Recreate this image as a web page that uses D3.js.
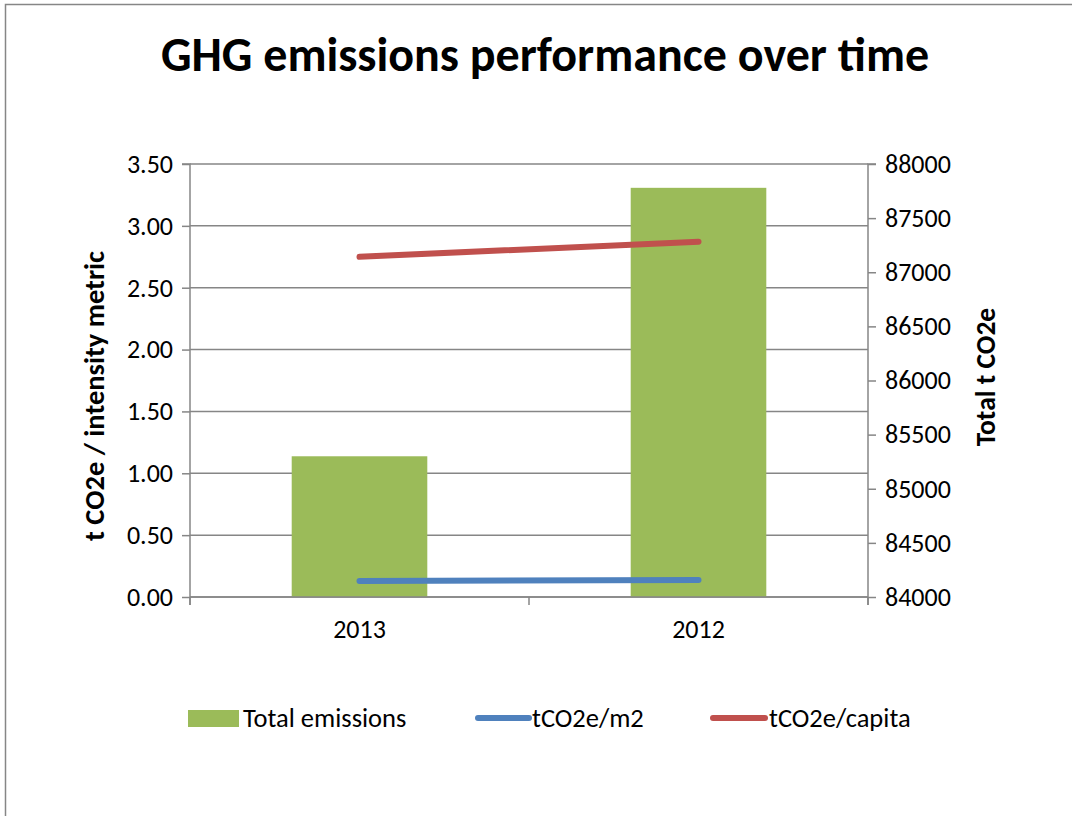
<!DOCTYPE html>
<html>
<head>
<meta charset="utf-8">
<script src="https://cdn.jsdelivr.net/npm/d3@7"></script>
<style>
  html, body { margin: 0; padding: 0; background: #fff; }
  svg { display: block; }
  text { font-family: Carlito, Calibri, "Open Sans", Lato, sans-serif; fill: #000; }
</style>
</head>
<body>
<svg id="chart" width="1072" height="816"></svg>
<script>
// ---- data ----
const categories = ["2013", "2012"];
const totalEmissions = [85300, 87780];      // right axis, bars
const perM2 = [0.129, 0.137];               // left axis, blue line
const perCapita = [2.75, 2.872];            // left axis, red line
const leftTicks = [0, 0.5, 1, 1.5, 2, 2.5, 3, 3.5];
const rightTicks = [84000, 84500, 85000, 85500, 86000, 86500, 87000, 87500, 88000];
const seriesNames = ["Total emissions", "tCO2e/m2", "tCO2e/capita"];
const colors = { bar: "#9BBB59", blue: "#4F81BD", red: "#C0504D" };

const svg = d3.select("#chart");
const gridColor = "#868686";
const fs = "26px";

// frame
svg.append("rect").attr("x", 5.5).attr("y", 4.5).attr("width", 1200).attr("height", 900)
  .attr("fill", "none").attr("stroke", gridColor).attr("stroke-width", 1.5);

const plot = { left: 190, right: 868, top: 164, bottom: 597 };

const x = d3.scaleBand().domain(categories).range([plot.left, plot.right]).paddingInner(0).paddingOuter(0);
const yL = d3.scaleLinear().domain([0, 3.5]).range([plot.bottom, plot.top]);
const yR = d3.scaleLinear().domain([84000, 88000]).range([plot.bottom, plot.top]);

// gridlines
svg.append("g").selectAll("line").data(leftTicks).join("line")
  .attr("x1", plot.left).attr("x2", plot.right)
  .attr("y1", d => yL(d)).attr("y2", d => yL(d))
  .attr("stroke", gridColor).attr("stroke-width", 1.5);

// bars
const barW = x.bandwidth() / 2.5;
svg.append("g").selectAll("rect").data(categories).join("rect")
  .attr("x", d => x(d) + (x.bandwidth() - barW) / 2)
  .attr("width", barW)
  .attr("y", (d, i) => yR(totalEmissions[i]))
  .attr("height", (d, i) => plot.bottom - yR(totalEmissions[i]))
  .attr("fill", colors.bar);

// left axis
const axL = d3.axisLeft(yL).tickValues(leftTicks).tickFormat(d3.format(".2f")).tickSize(8).tickPadding(9);
const gL = svg.append("g").attr("transform", `translate(${plot.left},0)`).call(axL);
// right axis
const axR = d3.axisRight(yR).tickValues(rightTicks).tickFormat(d3.format("d")).tickSize(8).tickPadding(9);
const gR = svg.append("g").attr("transform", `translate(${plot.right},0)`).call(axR);
// bottom axis
const axB = d3.axisBottom(x).tickSize(8).tickPadding(15);
const gB = svg.append("g").attr("transform", `translate(0,${plot.bottom})`).call(axB);
// bottom axis ticks at band boundaries
gB.selectAll(".tick line").remove();
svg.append("g").selectAll("line").data([plot.left, ...categories.map(c => x(c) + x.bandwidth())]).join("line")
  .attr("x1", d => d).attr("x2", d => d).attr("y1", plot.bottom).attr("y2", plot.bottom + 8)
  .attr("stroke", gridColor).attr("stroke-width", 1.5);

[gL, gR, gB].forEach(g => {
  g.select(".domain").attr("stroke", gridColor).attr("stroke-width", 1.5);
  g.selectAll(".tick line").attr("stroke", gridColor).attr("stroke-width", 1.5);
  g.selectAll(".tick text").attr("font-family", null).style("font-size", fs).attr("fill", "#000");
});
gL.select(".domain").attr("d", `M-8,${plot.top}H0V${plot.bottom + 8}`);
gR.select(".domain").attr("d", `M8,${plot.top}H0V${plot.bottom + 8}`);
gB.select(".domain").attr("d", `M${plot.left},0H${plot.right}`);

// lines
const line = d3.line().x((d, i) => x(categories[i]) + x.bandwidth() / 2).y(d => yL(d));
svg.append("path").datum(perM2).attr("d", line).attr("fill", "none")
  .attr("stroke", colors.blue).attr("stroke-width", 6).attr("stroke-linecap", "round");
svg.append("path").datum(perCapita).attr("d", line).attr("fill", "none")
  .attr("stroke", colors.red).attr("stroke-width", 6).attr("stroke-linecap", "round");

// title
svg.append("text").attr("x", 545).attr("y", 71).attr("text-anchor", "middle")
  .style("font-size", "48px").style("font-weight", "bold").text("GHG emissions performance over time");

// axis titles
svg.append("text").attr("transform", `translate(104,396) rotate(-90)`).attr("text-anchor", "middle")
  .style("font-size", "28.5px").style("font-weight", "bold").text("t CO2e / intensity metric");
svg.append("text").attr("transform", `translate(995,377) rotate(-90)`).attr("text-anchor", "middle")
  .style("font-size", "27.5px").style("font-weight", "bold").text("Total t CO2e");

// legend
const lg = svg.append("g");
const legY = 718;
lg.append("rect").attr("x", 188).attr("y", legY - 8).attr("width", 51).attr("height", 17).attr("fill", colors.bar);
lg.append("text").attr("x", 243).attr("y", legY + 9).style("font-size", "26.5px").text(seriesNames[0]);
lg.append("line").attr("x1", 478).attr("x2", 529).attr("y1", legY).attr("y2", legY)
  .attr("stroke", colors.blue).attr("stroke-width", 6).attr("stroke-linecap", "round");
lg.append("text").attr("x", 532).attr("y", legY + 9).style("font-size", "26.5px").text(seriesNames[1]);
lg.append("line").attr("x1", 713).attr("x2", 765).attr("y1", legY).attr("y2", legY)
  .attr("stroke", colors.red).attr("stroke-width", 6).attr("stroke-linecap", "round");
lg.append("text").attr("x", 769).attr("y", legY + 9).style("font-size", "26.5px").text(seriesNames[2]);
</script>
</body>
</html>
